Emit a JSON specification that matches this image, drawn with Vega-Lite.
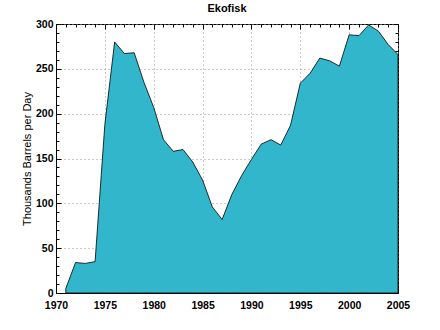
{
  "$schema": "https://vega.github.io/schema/vega-lite/v6.json",
  "autosize": "none",
  "width": 342,
  "height": 269,
  "padding": {"left": 56, "top": 24, "right": 42, "bottom": 37},
  "title": {"text": "Ekofisk", "font": "Liberation Sans", "fontSize": 11, "fontWeight": "bold", "color": "black", "offset": 5},
  "config": {"view": {"stroke": "black", "strokeWidth": 1}},
  "data": {"values": [
    {"year": 1971, "kbd": 5},
    {"year": 1972, "kbd": 34},
    {"year": 1973, "kbd": 33},
    {"year": 1974, "kbd": 35},
    {"year": 1975, "kbd": 188},
    {"year": 1976, "kbd": 280},
    {"year": 1977, "kbd": 267},
    {"year": 1978, "kbd": 268},
    {"year": 1979, "kbd": 235},
    {"year": 1980, "kbd": 207},
    {"year": 1981, "kbd": 171},
    {"year": 1982, "kbd": 158},
    {"year": 1983, "kbd": 160},
    {"year": 1984, "kbd": 146},
    {"year": 1985, "kbd": 126},
    {"year": 1986, "kbd": 96},
    {"year": 1987, "kbd": 82},
    {"year": 1988, "kbd": 110},
    {"year": 1989, "kbd": 131},
    {"year": 1990, "kbd": 149},
    {"year": 1991, "kbd": 166},
    {"year": 1992, "kbd": 171},
    {"year": 1993, "kbd": 165},
    {"year": 1994, "kbd": 187},
    {"year": 1995, "kbd": 234},
    {"year": 1996, "kbd": 245},
    {"year": 1997, "kbd": 262},
    {"year": 1998, "kbd": 259},
    {"year": 1999, "kbd": 253},
    {"year": 2000, "kbd": 288},
    {"year": 2001, "kbd": 287},
    {"year": 2002, "kbd": 299},
    {"year": 2003, "kbd": 292},
    {"year": 2004, "kbd": 277},
    {"year": 2005, "kbd": 266}
  ]},
  "layer": [
    {
      "mark": {"type": "area", "color": "#31B6CC", "stroke": "black", "strokeWidth": 0.8, "fillOpacity": 1},
      "encoding": {
        "x": {"field": "year", "type": "quantitative",
          "scale": {"domain": [1970, 2005], "nice": false, "zero": false},
          "axis": {"orient": "bottom", "title": null, "format": "d",
            "values": [1970,1971,1972,1973,1974,1975,1976,1977,1978,1979,1980,1981,1982,1983,1984,1985,1986,1987,1988,1989,1990,1991,1992,1993,1994,1995,1996,1997,1998,1999,2000,2001,2002,2003,2004,2005],
            "labelExpr": "datum.value % 5 === 0 ? datum.label : ''",
            "labelOverlap": false, "labelFlush": false,
            "tickSize": {"condition": {"test": "datum.value % 5 === 0", "value": -5}, "value": -3},
            "tickColor": "black", "domainColor": "black",
            "grid": true, "gridColor": "#999", "gridDash": [1, 3],
            "gridOpacity": {"condition": {"test": "datum.value % 5 === 0", "value": 1}, "value": 0},
            "labelFont": "Liberation Sans", "labelFontSize": 10.5, "labelFontWeight": "bold", "labelColor": "black", "labelPadding": 12}
        },
        "y": {"field": "kbd", "type": "quantitative",
          "scale": {"domain": [0, 300], "nice": false},
          "axis": {"orient": "left", "title": "Thousands Barrels per Day",
            "values": [0,10,20,30,40,50,60,70,80,90,100,110,120,130,140,150,160,170,180,190,200,210,220,230,240,250,260,270,280,290,300],
            "labelExpr": "datum.value % 50 === 0 ? datum.label : ''",
            "labelOverlap": false, "labelFlush": false,
            "tickSize": {"condition": {"test": "datum.value % 50 === 0", "value": -5}, "value": -3},
            "tickColor": "black", "domainColor": "black",
            "grid": true, "gridColor": "#999", "gridDash": [1, 3],
            "gridOpacity": {"condition": {"test": "datum.value % 50 === 0", "value": 1}, "value": 0},
            "labelFont": "Liberation Sans", "labelFontSize": 10.5, "labelFontWeight": "bold", "labelColor": "black", "labelPadding": 8,
            "titleFont": "Liberation Sans", "titleFontSize": 11, "titleFontWeight": "normal", "titleColor": "black", "titlePadding": 3}
        }
      }
    },
    {
      "mark": {"type": "point", "opacity": 0},
      "encoding": {
        "x": {"field": "year", "type": "quantitative",
          "axis": {"orient": "top", "title": null, "labels": false, "grid": false, "domain": false,
            "values": [1970,1971,1972,1973,1974,1975,1976,1977,1978,1979,1980,1981,1982,1983,1984,1985,1986,1987,1988,1989,1990,1991,1992,1993,1994,1995,1996,1997,1998,1999,2000,2001,2002,2003,2004,2005],
            "tickSize": {"condition": {"test": "datum.value % 5 === 0", "value": -5}, "value": -3},
            "tickColor": "black"}
        },
        "y": {"field": "kbd", "type": "quantitative",
          "axis": {"orient": "right", "title": null, "labels": false, "grid": false, "domain": false,
            "values": [0,10,20,30,40,50,60,70,80,90,100,110,120,130,140,150,160,170,180,190,200,210,220,230,240,250,260,270,280,290,300],
            "tickSize": {"condition": {"test": "datum.value % 50 === 0", "value": -5}, "value": -3},
            "tickColor": "black"}
        }
      }
    }
  ],
  "resolve": {"axis": {"x": "independent", "y": "independent"}}
}
